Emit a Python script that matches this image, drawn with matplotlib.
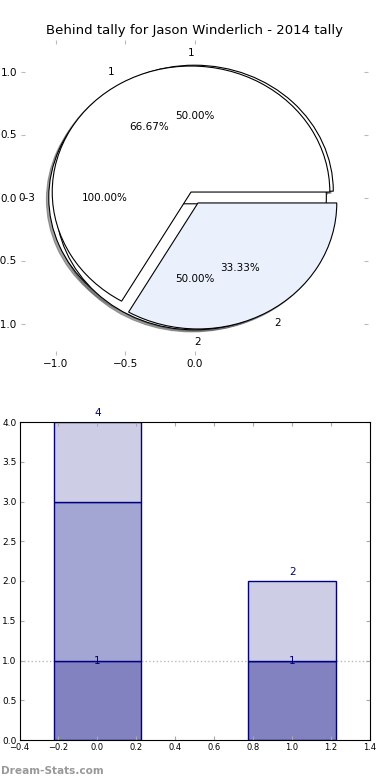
import matplotlib
matplotlib.use("Agg")
import matplotlib.pyplot as plt

# pie data (three overlaid pies, like the original)
pie_a_vals = [1]
pie_a_labels = ['0-3']
pie_b_vals = [1, 1]
pie_b_labels = ['1', '2']
pie_c_vals = [2, 1]
pie_c_labels = ['1', '2']

# stacked bar data
bar_x = [0, 1]
layer1 = [1, 1]
layer2 = [2, 0]
layer3 = [1, 1]

title = "Behind tally for Jason Winderlich - 2014 tally"

fig = plt.figure(figsize=(3.9, 7.8), dpi=100)

# ---- pie ----
ax1 = fig.add_axes([21/390, 1-355/780, 347/390, 315/780])
wp = dict(edgecolor='black', linewidth=0.8)
shd = dict(ox=-0.012, oy=-0.012, shade=0.6, alpha=0.6)
ax1.pie(pie_a_vals, labels=pie_a_labels, autopct='%1.2f%%', explode=[0.05],
        colors=['white'], shadow=shd, startangle=0, wedgeprops=wp,
        textprops=dict(fontsize=7.5))
ax1.pie(pie_b_vals, labels=pie_b_labels, autopct='%1.2f%%', explode=[0.05, 0.05],
        colors=['white', 'white'], shadow=shd, startangle=0, wedgeprops=wp,
        textprops=dict(fontsize=7.5))
ax1.pie(pie_c_vals, labels=pie_c_labels, autopct='%1.2f%%', explode=[0.05, 0.05],
        colors=['white', '#eaf0fc'], shadow=shd, startangle=0, wedgeprops=wp,
        textprops=dict(fontsize=7.5))
ax1.set_aspect('auto')
ax1.set_frame_on(False)
ax1.set_xlim(-1.25, 1.25)
ax1.set_ylim(-1.25, 1.25)
ax1.set_xticks([-1.0, -0.5, 0.0])
ax1.set_yticks([-1.0, -0.5, 0.0, 0.5, 1.0])
ax1.set_xticklabels(['\u22121.0', '\u22120.5', '0.0'])
ax1.set_yticklabels(['\u22121.0', '\u22120.5', '0.0', '0.5', '1.0'])
ax1.tick_params(direction='in', length=3, color='#bbbbbb', labelsize=7.5,
                top=True, right=True, pad=3)
ax1.set_title(title, fontsize=9.5, pad=4)

# ---- stacked bars ----
ax2 = fig.add_axes([19.5/390, 1-740/780, 350.5/390, 318/780])
w = 0.45
b2 = [a + b for a, b in zip(layer1, layer2)]
ax2.bar(bar_x, layer1, w, color='#8282c0', edgecolor='navy', linewidth=1)
ax2.bar(bar_x, layer2, w, bottom=layer1, color='#a3a6d2', edgecolor='navy', linewidth=1)
ax2.bar(bar_x, layer3, w, bottom=b2, color='#cdcee5', edgecolor='navy', linewidth=1)
ax2.axhline(1, color='#bbbbbb', linestyle=':', linewidth=1, zorder=0)

totals = [a + b + c for a, b, c in zip(layer1, layer2, layer3)]
for x, t, v in zip(bar_x, totals, layer1):
    ax2.text(x, t + 0.05, str(t), ha='center', va='bottom', color='navy', fontsize=7.5)
    ax2.text(x, v, str(v), ha='center', va='center', color='navy', fontsize=7.5)

ax2.set_xlim(-0.4, 1.4)
ax2.set_ylim(0, 4)
ax2.set_xticks([-0.4, -0.2, 0.0, 0.2, 0.4, 0.6, 0.8, 1.0, 1.2, 1.4])
ax2.set_yticks([0, 0.5, 1, 1.5, 2, 2.5, 3, 3.5, 4])
ax2.set_xticklabels(['\u22120.4', '\u22120.2', '0.0', '0.2', '0.4', '0.6', '0.8', '1.0', '1.2', '1.4'])
ax2.set_yticklabels(['0.0', '0.5', '1.0', '1.5', '2.0', '2.5', '3.0', '3.5', '4.0'])
ax2.tick_params(direction='in', length=3, color='#aaaaaa', labelsize=6,
                top=True, right=True, pad=2)
ax2.tick_params(axis='y', labelsize=6.5)

fig.text(0.002, 0.005, 'Dream-Stats.com', color='#999999', fontsize=7.6,
         fontweight='bold', ha='left', va='bottom')

fig.savefig('out.png', dpi=100)
